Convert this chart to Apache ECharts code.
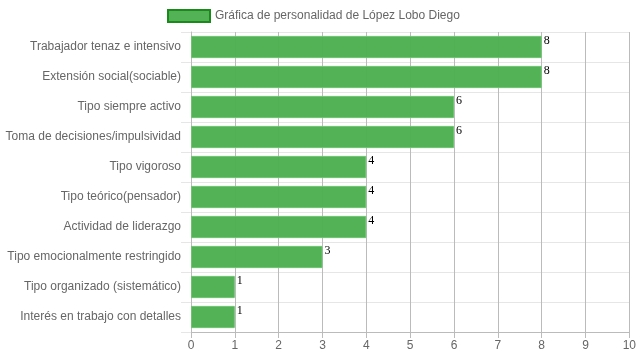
<!DOCTYPE html>
<html><head><meta charset="utf-8">
<script src="https://cdn.jsdelivr.net/npm/echarts@6/dist/echarts.min.js"></script>
<style>html,body{margin:0;padding:0;background:#fff}#c{width:639px;height:360px}</style>
</head><body><div id="c"></div>
<script>
const categories = ["Trabajador tenaz e intensivo","Extensión social(sociable)","Tipo siempre activo","Toma de decisiones/impulsividad","Tipo vigoroso","Tipo teórico(pensador)","Actividad de liderazgo","Tipo emocionalmente restringido","Tipo organizado (sistemático)","Interés en trabajo con detalles"];
const values = [8,8,6,6,4,4,4,3,1,1];
const seriesName = "Gráfica de personalidad de López Lobo Diego";
const xTicks = [0,1,2,3,4,5,6,7,8,9,10];

const chart = echarts.init(document.getElementById('c'), null, {renderer:'canvas'});
chart.setOption({
  animation:false,
  textStyle:{fontFamily:'Liberation Sans, Arial, sans-serif'},
  legend:{
    left:162, top:4, icon:'rect', itemWidth:42, itemHeight:12, itemGap:6,
    textStyle:{color:'#666', fontSize:12, fontFamily:'Liberation Sans, Arial, sans-serif'},
    itemStyle:{borderColor:'#1a8a1a', borderWidth:2},
    data:[seriesName]
  },
  grid:{left:191, right:9, top:32, bottom:28, containLabel:false},
  xAxis:{
    type:'value', min:xTicks[0], max:xTicks[xTicks.length-1], interval:1,
    axisLine:{show:true, lineStyle:{color:'#bbb'}},
    axisTick:{show:true, length:6, lineStyle:{color:'#bbb'}},
    axisLabel:{color:'#666', fontSize:12, margin:8},
    splitLine:{show:true, lineStyle:{color:'#bbb', width:1}}
  },
  yAxis:{
    type:'category', inverse:true, data:categories,
    axisLine:{show:true, lineStyle:{color:'#bbb'}},
    axisTick:{show:true, length:10, lineStyle:{color:'#e6e6e6'}},
    axisLabel:{color:'#666', fontSize:12, margin:10},
    splitLine:{show:true, lineStyle:{color:'#e6e6e6'}}
  },
  series:[{
    name:seriesName, type:'bar', data:values,
    barCategoryGap:'26%',
    itemStyle:{color:'rgba(76,176,80,0.97)', borderColor:'#6cc46f', borderWidth:1},
    label:{show:true, position:'right', distance:2, offset:[0,-6], color:'#000', fontSize:12, fontFamily:'Liberation Serif, Times New Roman, serif'}
  }]
});
</script></body></html>
